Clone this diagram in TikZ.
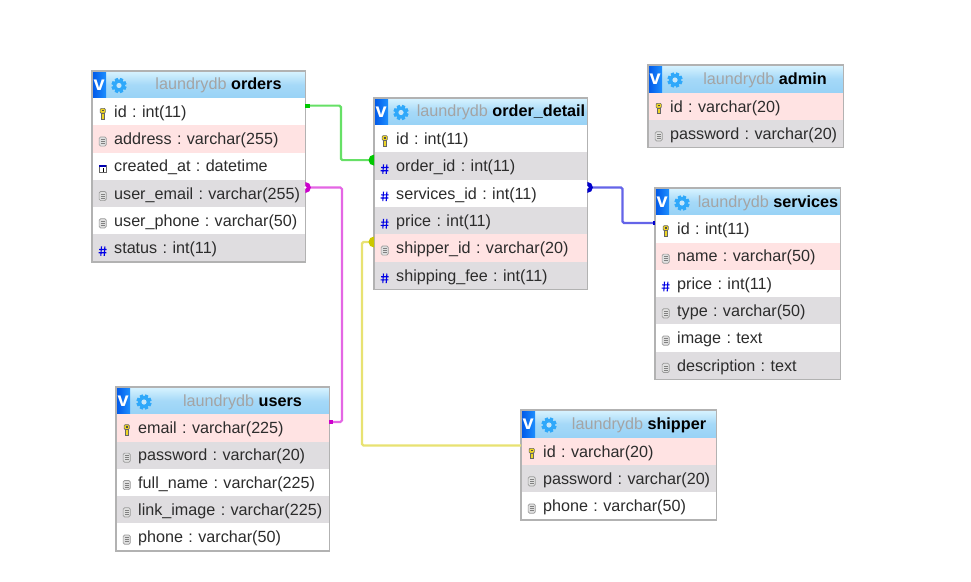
\documentclass[tikz,border=0pt]{standalone}
\usepackage{fontspec}
\setmainfont{Liberation Sans}
\usepackage{xcolor}
\usepackage{tikz}
\definecolor{rowpink}{HTML}{FFE3E3}
\definecolor{rowgrey}{HTML}{DFDDE0}
\definecolor{framegrey}{HTML}{B2B2B2}
\definecolor{headtop}{HTML}{D8F3FF}
\definecolor{headbot}{HTML}{98D2F6}
\definecolor{tabdark}{HTML}{0058E8}
\definecolor{tablight}{HTML}{1E90FF}
\definecolor{gearblue}{HTML}{2FA8FA}
\definecolor{dbgrey}{HTML}{A4A4A4}
\definecolor{ink}{HTML}{2C2C2C}
\definecolor{linegreen}{HTML}{66E066}
\definecolor{markgreen}{HTML}{00C800}
\definecolor{linepink}{HTML}{E466E4}
\definecolor{markpink}{HTML}{CC00CC}
\definecolor{lineyellow}{HTML}{E8E272}
\definecolor{markyellow}{HTML}{CCC800}
\definecolor{lineblue}{HTML}{6464E8}
\definecolor{markblue}{HTML}{0000CC}
\tikzset{
  keyicon/.pic={
    \fill[draw=black!60, line width=0.6pt, fill=yellow!70!brown, rounded corners=1pt] (-2.6,-5.2) rectangle (2.6,-0.4);
    \fill[draw=black!60, line width=0.6pt, fill=yellow!70!brown] (-1.2,-0.4) rectangle (1.2,5.2);
    \fill[black!70] (-1,-3.6) rectangle (1,-2.2);
    \fill[black!60] (1.2,1.6) rectangle (2.6,2.8);
    \fill[black!60] (1.2,3.6) rectangle (2.6,4.8);
  },
  docicon/.pic={
    \fill[draw=black!40, line width=0.7pt, fill=black!12, rounded corners=1.5pt] (-3.6,-4.6) rectangle (3.6,4.6);
    \draw[black!50, line width=0.7pt] (-1.9,-2) -- (1.9,-2) (-1.9,0) -- (1.9,0) (-1.9,2) -- (1.9,2);
  },
  hashicon/.pic={
    \draw[blue!90!black, line width=1.1pt] (-1.2,-4.8) -- (-1.9,4.8) (2.2,-4.8) -- (1.5,4.8) (-3.6,-1.6) -- (4,-1.6) (-4,1.6) -- (3.6,1.6);
  },
  calicon/.pic={
    \fill[draw=black!60, line width=0.6pt, fill=white] (-3.4,-3.8) rectangle (3.4,3.8);
    \fill[blue!70!black] (-3.4,-3.8) rectangle (3.4,-1.6);
    \draw[black, line width=0.8pt] (0.2,-0.6) -- (0.2,2.8);
  },
  gearicon/.pic={
    \foreach \a in {0,45,...,315} {\fill[gearblue, rotate=\a+22.5] (-1.7,-7.6) rectangle (1.7,0);}
    \fill[gearblue] (0,0) circle (6pt);
    \fill[headbot!55!white] (0,0) circle (2.6pt);
  },
  cell/.style={anchor=west, inner sep=0pt, text width=#1pt, minimum height=27.3pt, align=left, text height=12.5pt, text depth=1pt, text=ink, font=\fontsize{16.15}{18}\selectfont\frenchspacing, execute at begin node={\hspace*{22pt}}},
  keycell/.style={cell=#1, path picture={\pic at ([xshift=10.5pt,yshift=-2pt]path picture bounding box.west) {keyicon};}},
  doccell/.style={cell=#1, path picture={\pic at ([xshift=10.5pt,yshift=-2.5pt]path picture bounding box.west) {docicon};}},
  hashcell/.style={cell=#1, path picture={\pic at ([xshift=10.5pt,yshift=-3pt]path picture bounding box.west) {hashicon};}},
  calcell/.style={cell=#1, path picture={\pic at ([xshift=10.5pt,yshift=-2.5pt]path picture bounding box.west) {calicon};}},
  head/.style={anchor=north west, inner sep=0pt, minimum width=#1pt, minimum height=27.3pt, top color=headtop, bottom color=headbot, middle color=headbot!80!headtop},
  vtab/.style={anchor=north west, inner sep=0pt, minimum width=14pt, minimum height=27.3pt, left color=tabdark, right color=tablight, text=white, font=\bfseries\fontsize{20}{20}\selectfont},
  title/.style={inner sep=0pt, font=\fontsize{16.2}{18}\selectfont\frenchspacing, text=black},
  box/.style={draw=framegrey, line width=1.1pt},
  fk/.style={line width=2.2pt, rounded corners=1.5pt},
}
\newcommand{\dbname}{\textcolor{dbgrey}{laundrydb}}
\begin{document}
\begin{tikzpicture}[x=1pt,y=-1pt]
  \useasboundingbox[fill=white] (0,0) rectangle (971,581);

  % orders
  \node[head=213] (ordersHead) at (92,71) {};
  \node[vtab] (ordersTab) at (ordersHead.north west) {v};
  \pic at (119,85.5) {gearicon};
  \node[title] (ordersTitle) at (218.5,85) {\dbname{} \textbf{orders}};
  \node[keycell=213, fill=white] (ordersId) at (92,111.6) {id : int(11)};
  \node[doccell=213, fill=rowpink] (ordersAddress) at (92,139) {address : varchar(255)};
  \node[calcell=213, fill=white] (ordersCreated) at (92,166.2) {created\_at : datetime};
  \node[doccell=213, fill=rowgrey] (ordersEmail) at (92,193.5) {user\_email : varchar(255)};
  \node[doccell=213, fill=white] (ordersPhone) at (92,220.8) {user\_phone : varchar(50)};
  \node[hashcell=213, fill=rowgrey] (ordersStatus) at (92,248.1) {status : int(11)};
  \draw[box] (ordersHead.north west) rectangle (ordersStatus.south east);

  % order_detail
  \node[head=213] (detailHead) at (374,98) {};
  \node[vtab] (detailTab) at (detailHead.north west) {v};
  \pic at (401,112.5) {gearicon};
  \node[title] (detailTitle) at (501,112.5) {\dbname{} \textbf{order\_detail}};
  \node[keycell=213, fill=white] (detailId) at (374,138.8) {id : int(11)};
  \node[hashcell=213, fill=rowgrey] (detailOrder) at (374,166.1) {order\_id : int(11)};
  \node[hashcell=213, fill=white] (detailServices) at (374,193.4) {services\_id : int(11)};
  \node[hashcell=213, fill=rowgrey] (detailPrice) at (374,220.7) {price : int(11)};
  \node[doccell=213, fill=rowpink] (detailShipper) at (374,248) {shipper\_id : varchar(20)};
  \node[hashcell=213, fill=rowgrey] (detailFee) at (374,275.3) {shipping\_fee : int(11)};
  \draw[box] (detailHead.north west) rectangle (detailFee.south east);

  % admin
  \node[head=195] (adminHead) at (648,65) {};
  \node[vtab] (adminTab) at (adminHead.north west) {v};
  \pic at (675,80) {gearicon};
  \node[title] (adminTitle) at (765,80) {\dbname{} \textbf{admin}};
  \node[keycell=195, fill=rowpink] (adminId) at (648,106.5) {id : varchar(20)};
  \node[doccell=195, fill=rowgrey] (adminPassword) at (648,133.8) {password : varchar(20)};
  \draw[box] (adminHead.north west) rectangle (adminPassword.south east);

  % services
  \node[head=185.5] (servicesHead) at (655,188) {};
  \node[vtab] (servicesTab) at (servicesHead.north west) {v};
  \pic at (682,203) {gearicon};
  \node[title] (servicesTitle) at (768,203) {\dbname{} \textbf{services}};
  \node[keycell=185.5, fill=white] (servicesId) at (655,228.9) {id : int(11)};
  \node[doccell=185.5, fill=rowpink] (servicesName) at (655,256.2) {name : varchar(50)};
  \node[hashcell=185.5, fill=white] (servicesPrice) at (655,283.5) {price : int(11)};
  \node[doccell=185.5, fill=rowgrey] (servicesType) at (655,310.8) {type : varchar(50)};
  \node[doccell=185.5, fill=white] (servicesImage) at (655,338.1) {image : text};
  \node[doccell=185.5, fill=rowgrey] (servicesDesc) at (655,365.4) {description : text};
  \draw[box] (servicesHead.north west) rectangle (servicesDesc.south east);

  % users
  \node[head=213] (usersHead) at (116,387) {};
  \node[vtab] (usersTab) at (usersHead.north west) {v};
  \pic at (144,402) {gearicon};
  \node[title] (usersTitle) at (242.5,402) {\dbname{} \textbf{users}};
  \node[keycell=213, fill=rowpink] (usersEmail) at (116,427.9) {email : varchar(225)};
  \node[doccell=213, fill=rowgrey] (usersPassword) at (116,455.2) {password : varchar(20)};
  \node[doccell=213, fill=white] (usersName) at (116,482.5) {full\_name : varchar(225)};
  \node[doccell=213, fill=rowgrey] (usersImage) at (116,509.8) {link\_image : varchar(225)};
  \node[doccell=213, fill=white] (usersPhone) at (116,537.1) {phone : varchar(50)};
  \draw[box] (usersHead.north west) rectangle (usersPhone.south east);

  % shipper
  \node[head=195] (shipperHead) at (521,410) {};
  \node[vtab] (shipperTab) at (shipperHead.north west) {v};
  \pic at (549,425) {gearicon};
  \node[title] (shipperTitle) at (639,425) {\dbname{} \textbf{shipper}};
  \node[keycell=195, fill=rowpink] (shipperId) at (521,451.5) {id : varchar(20)};
  \node[doccell=195, fill=rowgrey] (shipperPassword) at (521,478.8) {password : varchar(20)};
  \node[doccell=195, fill=white] (shipperPhone) at (521,506.1) {phone : varchar(50)};
  \draw[box] (shipperHead.north west) rectangle (shipperPhone.south east);

  % relations
  \draw[fk, linegreen] ([yshift=6pt]ordersId.east) -- ++(35.5,0) |- ([yshift=6pt]detailOrder.west);
  \fill[markgreen] ([yshift=6pt]ordersId.east) ++(0,-2) rectangle ++(5,4);
  \fill[markgreen] ([yshift=11.5pt]detailOrder.west) arc (90:270:5.5pt);

  \draw[fk, linepink] ([yshift=6pt]ordersEmail.east) -- ++(36.5,0) |- ([yshift=6pt]usersEmail.east);
  \fill[markpink] ([yshift=11.5pt]ordersEmail.east) arc (90:-90:5.5pt);
  \fill[white] ([yshift=6pt]ordersEmail.east) circle (1.3pt);
  \fill[markpink] ([yshift=6pt]usersEmail.east) ++(0,-2) rectangle ++(4,4);

  \draw[fk, lineyellow] ([yshift=6pt]detailShipper.west) -- ++(-12,0) |- ([yshift=6pt]shipperId.west);
  \fill[markyellow] ([yshift=11.5pt]detailShipper.west) arc (90:270:5.5pt);

  \draw[fk, lineblue] ([yshift=6pt]detailServices.east) -- ++(35,0) |- ([yshift=6pt]servicesId.west);
  \fill[markblue] ([yshift=11.5pt]detailServices.east) arc (90:-90:5.5pt);
  \fill[white] ([yshift=6pt]detailServices.east) circle (1.3pt);
  \fill[markblue] ([yshift=6pt]servicesId.west) ++(-2,-2) rectangle ++(2,4);
\end{tikzpicture}
\end{document}
